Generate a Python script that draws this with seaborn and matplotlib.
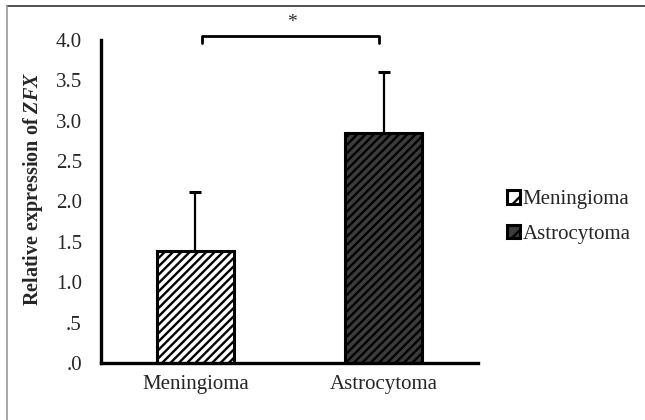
import numpy as np
import pandas as pd
import seaborn as sns
import matplotlib.pyplot as plt
from matplotlib.patches import Patch
from matplotlib.lines import Line2D

# --- data ---
groups = ['Meningioma', 'Astrocytoma']
means = [1.38, 2.85]
sd = [0.74, 0.75]
y_ticks = [0.0, 0.5, 1.0, 1.5, 2.0, 2.5, 3.0, 3.5, 4.0]
y_tick_labels = ['.0', '.5', '1.0', '1.5', '2.0', '2.5', '3.0', '3.5', '4.0']

sns.set_style('white')
plt.rcParams['font.family'] = ['Liberation Serif', 'DejaVu Serif']
plt.rcParams['mathtext.fontset'] = 'custom'
plt.rcParams['mathtext.it'] = 'Liberation Serif:italic:bold'
plt.rcParams['hatch.linewidth'] = 1.7
plt.rcParams['hatch.color'] = 'black'

df = pd.DataFrame({'group': groups, 'value': means})
fills = ['white', '#3c3c3c']
hatches = ['////', '////']

fig = plt.figure(figsize=(6.45, 4.2), dpi=100)
ax = fig.add_axes([0.157, 0.136, 0.584, 0.769])

sns.barplot(data=df, x='group', y='value', hue='group', palette=fills,
            width=0.41, edgecolor='black', linewidth=2.2, legend=False, ax=ax)
for bar, h in zip(ax.patches, hatches):
    bar.set_hatch(h)

# error bars (upper only)
ax.errorbar(range(len(groups)), means, yerr=[[0, 0], sd], fmt='none',
            ecolor='black', elinewidth=1.6, capsize=4, capthick=2.2, zorder=1)

ax.set_xlim(-0.5, 1.5)
ax.set_ylim(0, 4)
ax.set_yticks(y_ticks)
ax.set_yticklabels(y_tick_labels)
ax.set_xticks([-0.5, 0.5, 1.5], minor=True)
ax.tick_params(axis='x', which='major', length=0, pad=9, labelsize=15)
ax.tick_params(axis='x', which='minor', length=4, width=2, direction='out')
ax.tick_params(axis='y', length=5, width=2, direction='out', pad=9, labelsize=15)
ax.set_xlabel('')
ax.set_ylabel('Relative expression of $\\mathit{ZFX}$', fontsize=14.5,
              fontweight='bold')
ax.yaxis.set_label_coords(-0.15, 0.54)

sns.despine(ax=ax)
for s in ['left', 'bottom']:
    ax.spines[s].set_linewidth(2.4)
    ax.spines[s].set_color('black')

# significance bracket
ax.plot([0.034, 0.034, 0.976, 0.976], [3.96, 4.05, 4.05, 3.96],
        color='black', lw=2, clip_on=False)
ax.text(0.51, 4.22, '*', ha='center', va='center', fontsize=14)

# legend
handles = [Patch(facecolor=c, edgecolor='black', hatch='//', linewidth=2.2)
           for c in fills]
fig.legend(handles, groups, loc='center left', bbox_to_anchor=(0.757, 0.483),
           frameon=False, fontsize=15, handlelength=0.6, handleheight=0.6,
           handletextpad=0.15, labelspacing=0.75)

# picture frame lines (top and left)
fig.add_artist(Line2D([0.011, 1.0], [0.986, 0.986], color='#333333', lw=1.2))
fig.add_artist(Line2D([0.011, 0.011], [0.0, 0.986], color='#999999', lw=1.2))

fig.savefig('out.png', dpi=100)
